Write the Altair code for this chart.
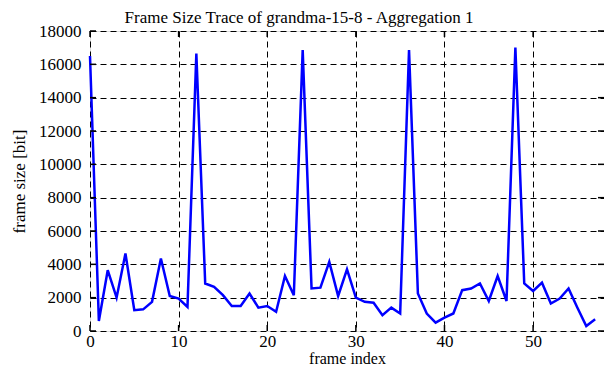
import altair as alt
import pandas as pd

frame_index = list(range(58))
frame_size = [16500, 600, 3650, 2000, 4650, 1250, 1300, 1750, 4350, 2100,
              1950, 1450, 16650, 2850, 2650, 2150, 1500, 1500, 2250, 1400,
              1500, 1150, 3300, 2150, 16850, 2550, 2600, 4150, 2100, 3700,
              2000, 1750, 1700, 950, 1400, 1050, 16850, 2250, 1050, 500,
              800, 1050, 2450, 2550, 2850, 1800, 3300, 1800, 17000, 2850,
              2400, 2900, 1650, 1950, 2550, 1400, 300, 700]
x_ticks = [0, 10, 20, 30, 40, 50]
y_ticks = [0, 2000, 4000, 6000, 8000, 10000, 12000, 14000, 16000, 18000]

W, H = 514, 300
FONT = "Liberation Serif"
FS = 17

df = pd.DataFrame({"frame index": frame_index, "frame size": frame_size})
xt = pd.DataFrame({"t": x_ticks})
yt = pd.DataFrame({"v": y_ticks})

xscale = alt.Scale(domain=[0, 58], nice=False, zero=False)
yscale = alt.Scale(domain=[0, 18000], nice=False)

common = dict(grid=True, gridDash=[6, 4], gridColor="black", gridWidth=1, gridOpacity=1,
              ticks=False, domain=False, labelFont=FONT, titleFont=FONT,
              labelFontSize=FS, labelColor="black", titleColor="black",
              titleFontWeight="normal", labelFlush=False, labelOverlap=False)

xaxis = alt.Axis(values=x_ticks, title="frame index", labelPadding=2, titlePadding=1,
                 titleFontSize=16, **common)
yaxis = alt.Axis(values=y_ticks, title="frame size [bit]", labelPadding=9, titlePadding=10,
                 titleFontSize=FS, format="d", **common)

line = alt.Chart(df).mark_line(color="#0000ff", strokeWidth=2.5).encode(
    x=alt.X("frame index:Q", scale=xscale, axis=xaxis),
    y=alt.Y("frame size:Q", scale=yscale, axis=yaxis),
)

xb = alt.Chart(xt).mark_rule(color="black", strokeWidth=1.5).encode(
    x=alt.X("t:Q", scale=xscale, axis=xaxis), y=alt.value(H), y2=alt.value(H - 6))
xtop = alt.Chart(xt).mark_rule(color="black", strokeWidth=1.5).encode(
    x=alt.X("t:Q", scale=xscale, axis=xaxis), y=alt.value(0), y2=alt.value(6))
yl = alt.Chart(yt).mark_rule(color="black", strokeWidth=1.5).encode(
    y=alt.Y("v:Q", scale=yscale, axis=yaxis), x=alt.value(0), x2=alt.value(6))
yr = alt.Chart(yt).mark_rule(color="black", strokeWidth=1.5).encode(
    y=alt.Y("v:Q", scale=yscale, axis=yaxis), x=alt.value(W), x2=alt.value(W - 6))

chart = alt.layer(line, xb, xtop, yl, yr).properties(
    width=W, height=H,
    title=alt.TitleParams("Frame Size Trace of grandma-15-8 - Aggregation 1",
                          font=FONT, fontSize=FS, fontWeight="normal", color="black",
                          anchor="middle", dx=-48, offset=-5),
    padding={"left": 82, "top": 23, "right": 0, "bottom": 38},
    autosize=alt.AutoSizeParams(type="none"),
).configure_view(stroke="black", strokeWidth=2).configure_axis(
    labelOverlap=False).configure(background="white")

chart.save("out.html", embed_options={"renderer": "svg", "actions": False})
